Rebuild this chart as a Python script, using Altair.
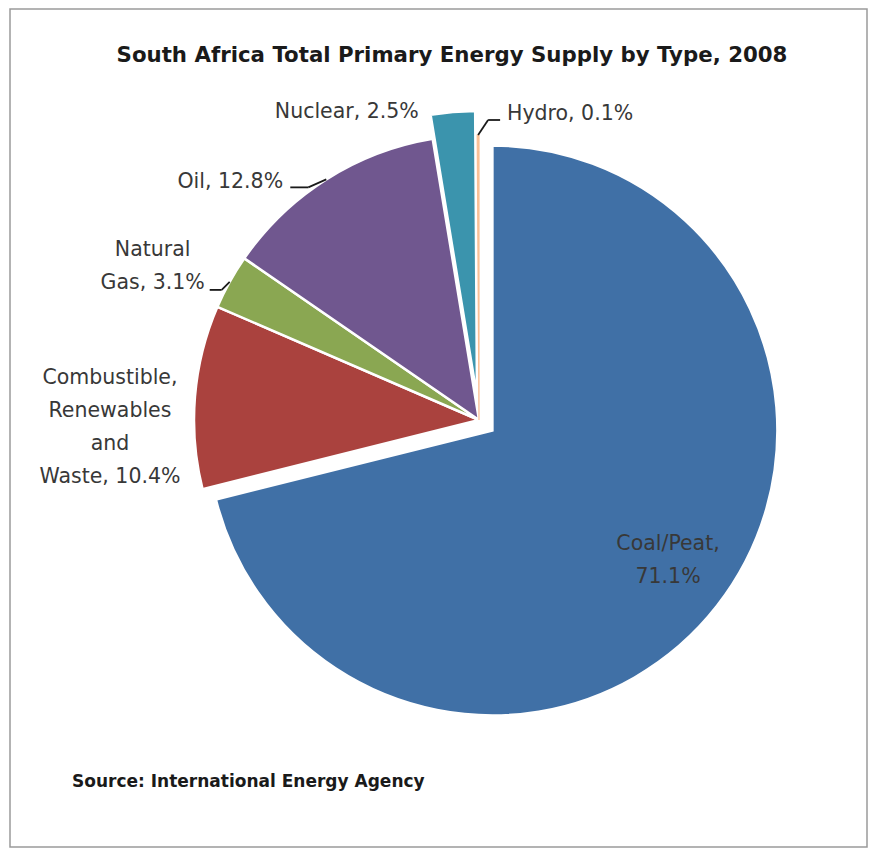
import altair as alt
import pandas as pd

# ---------------- data ----------------
CATEGORIES = ["Coal/Peat", "Combustible, Renewables and Waste", "Natural Gas", "Oil", "Nuclear", "Hydro"]
SHARES = [71.1, 10.4, 3.1, 12.8, 2.5, 0.1]
LABEL_TEXT = [
    "Coal/Peat,\n71.1%",
    "Combustible,\nRenewables\nand\nWaste, 10.4%",
    "Natural\nGas, 3.1%",
    "Oil, 12.8%",
    "Nuclear, 2.5%",
    "Hydro, 0.1%",
]
TITLE = "South Africa Total Primary Energy Supply by Type, 2008"
SOURCE = "Source: International Energy Agency"

# ---------------- style ----------------
COLORS = ["#4070A6", "#AA423E", "#8AA752", "#70578F", "#3B94AD", "#FAC096"]
EXPLODE = [17, 0, 0, 0, 24, 0]          # px pulled out along mid-angle
STROKE_COL = ["white", "white", "white", "white", "white", "#FAC096"]
STROKE_W = [2.5, 2.5, 2.5, 2.5, 2.5, 1.2]
LABEL_DX = [-49, -85, -77, -96, -106, 92]  # label nudge from slice's outer mid-point
LABEL_DY = [-45, 31, -15, 3, 0, -21]
LEADER = [None, None, (-8, 8, -20, 8), (-18, 8, -36, 8), None, (10, -15, 22, -15)]
LINE_H = 33

CX, CY, R = 469, 411, 285
FONT = "DejaVu Sans"

df = pd.DataFrame({
    "order": list(range(len(CATEGORIES))),
    "category": CATEGORIES,
    "share": SHARES,
    "label": LABEL_TEXT,
    "explode": EXPLODE,
    "sc": STROKE_COL,
    "sw": STROKE_W,
    "ldx": LABEL_DX,
    "ldy": LABEL_DY,
    "has_leader": [l is not None for l in LEADER],
    "l1x": [l[0] if l else 0 for l in LEADER],
    "l1y": [l[1] if l else 0 for l in LEADER],
    "l2x": [l[2] if l else 0 for l in LEADER],
    "l2y": [l[3] if l else 0 for l in LEADER],
})

base = (
    alt.Chart(df)
    .transform_window(cum="sum(share)", sort=[alt.SortField("order")], frame=[None, 0])
    .transform_joinaggregate(total="sum(share)")
    .transform_calculate(
        t0="2*PI*(datum.cum - datum.share)/datum.total",
        t1="2*PI*datum.cum/datum.total",
    )
    .transform_calculate(mid="(datum.t0 + datum.t1)/2")
    .transform_calculate(
        cx=f"{CX} + datum.explode*sin(datum.mid)",
        cy=f"{CY} - datum.explode*cos(datum.mid)",
    )
    .transform_calculate(
        ax=f"datum.cx + {R}*sin(datum.mid)",
        ay=f"datum.cy - {R}*cos(datum.mid)",
    )
    .transform_calculate(
        lx="datum.ax + datum.ldx",
        ly=f"datum.ay + datum.ldy - (length(split(datum.label, '\\n')) - 1)*{LINE_H}/2",
        p1x="datum.ax + datum.l1x",
        p1y="datum.ay + datum.l1y",
        p2x="datum.ax + datum.l2x",
        p2y="datum.ay + datum.l2y",
    )
)

arcs = base.mark_arc(radius=R).encode(
    x=alt.X("cx:Q", scale=None, axis=None),
    y=alt.Y("cy:Q", scale=None, axis=None),
    theta=alt.Theta("t0:Q", scale=None, stack=None),
    theta2="t1:Q",
    color=alt.Color("category:N", scale=alt.Scale(domain=CATEGORIES, range=COLORS), legend=None),
    stroke=alt.Stroke("sc:N", scale=None, legend=None),
    strokeWidth=alt.StrokeWidth("sw:Q", scale=None),
    order=alt.Order("order:Q"),
)

labels = base.mark_text(
    font=FONT, fontSize=20.5, color="#383838", align="center", baseline="middle",
    lineBreak="\n", lineHeight=LINE_H,
).encode(
    x=alt.X("lx:Q", scale=None, axis=None),
    y=alt.Y("ly:Q", scale=None, axis=None),
    text="label:N",
)

lead = base.transform_filter("datum.has_leader")
leader1 = lead.mark_rule(color="#1a1a1a", strokeWidth=1.8).encode(
    x=alt.X("ax:Q", scale=None, axis=None), y=alt.Y("ay:Q", scale=None, axis=None),
    x2="p1x:Q", y2="p1y:Q",
)
leader2 = lead.mark_rule(color="#1a1a1a", strokeWidth=1.8).encode(
    x=alt.X("p1x:Q", scale=None, axis=None), y=alt.Y("p1y:Q", scale=None, axis=None),
    x2="p2x:Q", y2="p2y:Q",
)

title = alt.Chart(pd.DataFrame({"t": [TITLE]})).mark_text(
    font=FONT, fontSize=21.3, fontWeight="bold", color="#1a1a1a", align="center", baseline="middle"
).encode(x=alt.value(442), y=alt.value(47), text="t:N")

source = alt.Chart(pd.DataFrame({"t": [SOURCE]})).mark_text(
    font=FONT, fontSize=17, fontWeight="bold", color="#1a1a1a", align="left", baseline="middle"
).encode(x=alt.value(62), y=alt.value(773), text="t:N")

chart = (
    alt.layer(arcs, leader1, leader2, labels, title, source)
    .properties(width=857, height=838, padding={"left": 2, "top": 1, "right": 2, "bottom": 2}, autosize="none")
    .configure_view(stroke="#9a9a9a", strokeWidth=1.5)
)

chart.save("out.html", embed_options={"renderer": "svg", "actions": False})
